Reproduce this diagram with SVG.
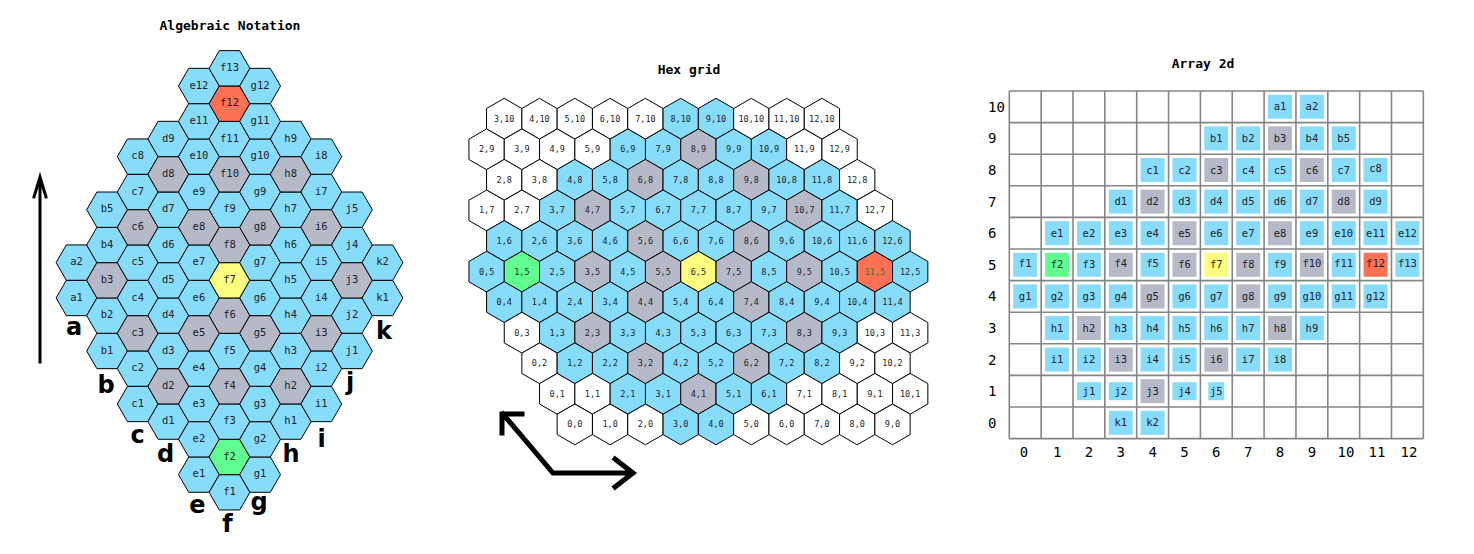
<svg xmlns="http://www.w3.org/2000/svg" xmlns:xlink="http://www.w3.org/1999/xlink" width="1474" height="554" viewBox="0 0 1474 554">
<style>
.b{fill:#87dcfa}.g{fill:#b6bac8}.w{fill:#ffffff}.y{fill:#fdfd80}.gr{fill:#62fd90}.o{fill:#fd7155}
text{font-family:"DejaVu Sans Mono","Liberation Mono",monospace;fill:#1c1c28;text-anchor:middle}
.title{font-size:13px;font-weight:bold;fill:#000}
#left text{font-size:10.5px}
#mid text{font-size:8.5px}
#arr text{font-size:10.5px}
.col{font-family:"DejaVu Sans","Liberation Sans",sans-serif;font-size:24px;font-weight:bold;fill:#000}
#arr text.ax{font-size:14px;fill:#000}
.hex{stroke:#000;stroke-width:1}
.grid{stroke:#858585;stroke-width:1.6;fill:none}
.arrow{stroke:#000;fill:none;stroke-linecap:square}
</style>
<defs>
<polygon id="fh" class="hex" points="20.4,0 10.2,17.67 -10.2,17.67 -20.4,0 -10.2,-17.67 10.2,-17.67"/>
<polygon id="ph" class="hex" points="0,-20.38 17.65,-10.19 17.65,10.19 0,20.38 -17.65,10.19 -17.65,-10.19"/>
</defs>
<rect width="1474" height="554" fill="#fff"/>
<text class="title" x="230" y="30">Algebraic Notation</text>
<text class="title" x="689" y="74">Hex grid</text>
<text class="title" x="1203" y="68">Array 2d</text>

<g id="left">
<g id="L-a1" transform="translate(76.5,298.0)"><use href="#fh" class="b"/><text y="2.5">a1</text></g>
<g id="L-a2" transform="translate(76.5,262.6)"><use href="#fh" class="b"/><text y="2.5">a2</text></g>
<g id="L-b1" transform="translate(107.1,351.0)"><use href="#fh" class="b"/><text y="2.5">b1</text></g>
<g id="L-b2" transform="translate(107.1,315.6)"><use href="#fh" class="b"/><text y="2.5">b2</text></g>
<g id="L-b3" transform="translate(107.1,280.3)"><use href="#fh" class="g"/><text y="2.5">b3</text></g>
<g id="L-b4" transform="translate(107.1,245.0)"><use href="#fh" class="b"/><text y="2.5">b4</text></g>
<g id="L-b5" transform="translate(107.1,209.7)"><use href="#fh" class="b"/><text y="2.5">b5</text></g>
<g id="L-c1" transform="translate(137.7,404.0)"><use href="#fh" class="b"/><text y="2.5">c1</text></g>
<g id="L-c2" transform="translate(137.7,368.6)"><use href="#fh" class="b"/><text y="2.5">c2</text></g>
<g id="L-c3" transform="translate(137.7,333.3)"><use href="#fh" class="g"/><text y="2.5">c3</text></g>
<g id="L-c4" transform="translate(137.7,298.0)"><use href="#fh" class="b"/><text y="2.5">c4</text></g>
<g id="L-c5" transform="translate(137.7,262.6)"><use href="#fh" class="b"/><text y="2.5">c5</text></g>
<g id="L-c6" transform="translate(137.7,227.3)"><use href="#fh" class="g"/><text y="2.5">c6</text></g>
<g id="L-c7" transform="translate(137.7,192.0)"><use href="#fh" class="b"/><text y="2.5">c7</text></g>
<g id="L-c8" transform="translate(137.7,156.6)"><use href="#fh" class="b"/><text y="2.5">c8</text></g>
<g id="L-d1" transform="translate(168.3,421.6)"><use href="#fh" class="b"/><text y="2.5">d1</text></g>
<g id="L-d2" transform="translate(168.3,386.3)"><use href="#fh" class="g"/><text y="2.5">d2</text></g>
<g id="L-d3" transform="translate(168.3,351.0)"><use href="#fh" class="b"/><text y="2.5">d3</text></g>
<g id="L-d4" transform="translate(168.3,315.6)"><use href="#fh" class="b"/><text y="2.5">d4</text></g>
<g id="L-d5" transform="translate(168.3,280.3)"><use href="#fh" class="b"/><text y="2.5">d5</text></g>
<g id="L-d6" transform="translate(168.3,245.0)"><use href="#fh" class="b"/><text y="2.5">d6</text></g>
<g id="L-d7" transform="translate(168.3,209.7)"><use href="#fh" class="b"/><text y="2.5">d7</text></g>
<g id="L-d8" transform="translate(168.3,174.3)"><use href="#fh" class="g"/><text y="2.5">d8</text></g>
<g id="L-d9" transform="translate(168.3,139.0)"><use href="#fh" class="b"/><text y="2.5">d9</text></g>
<g id="L-e1" transform="translate(198.9,474.6)"><use href="#fh" class="b"/><text y="2.5">e1</text></g>
<g id="L-e2" transform="translate(198.9,439.3)"><use href="#fh" class="b"/><text y="2.5">e2</text></g>
<g id="L-e3" transform="translate(198.9,404.0)"><use href="#fh" class="b"/><text y="2.5">e3</text></g>
<g id="L-e4" transform="translate(198.9,368.6)"><use href="#fh" class="b"/><text y="2.5">e4</text></g>
<g id="L-e5" transform="translate(198.9,333.3)"><use href="#fh" class="g"/><text y="2.5">e5</text></g>
<g id="L-e6" transform="translate(198.9,298.0)"><use href="#fh" class="b"/><text y="2.5">e6</text></g>
<g id="L-e7" transform="translate(198.9,262.6)"><use href="#fh" class="b"/><text y="2.5">e7</text></g>
<g id="L-e8" transform="translate(198.9,227.3)"><use href="#fh" class="g"/><text y="2.5">e8</text></g>
<g id="L-e9" transform="translate(198.9,192.0)"><use href="#fh" class="b"/><text y="2.5">e9</text></g>
<g id="L-e10" transform="translate(198.9,156.6)"><use href="#fh" class="b"/><text y="2.5">e10</text></g>
<g id="L-e11" transform="translate(198.9,121.3)"><use href="#fh" class="b"/><text y="2.5">e11</text></g>
<g id="L-e12" transform="translate(198.9,86.0)"><use href="#fh" class="b"/><text y="2.5">e12</text></g>
<g id="L-f1" transform="translate(229.5,492.3)"><use href="#fh" class="b"/><text y="2.5">f1</text></g>
<g id="L-f2" transform="translate(229.5,457.0)"><use href="#fh" class="gr"/><text y="2.5">f2</text></g>
<g id="L-f3" transform="translate(229.5,421.6)"><use href="#fh" class="b"/><text y="2.5">f3</text></g>
<g id="L-f4" transform="translate(229.5,386.3)"><use href="#fh" class="g"/><text y="2.5">f4</text></g>
<g id="L-f5" transform="translate(229.5,351.0)"><use href="#fh" class="b"/><text y="2.5">f5</text></g>
<g id="L-f6" transform="translate(229.5,315.6)"><use href="#fh" class="g"/><text y="2.5">f6</text></g>
<g id="L-f7" transform="translate(229.5,280.3)"><use href="#fh" class="y"/><text y="2.5">f7</text></g>
<g id="L-f8" transform="translate(229.5,245.0)"><use href="#fh" class="g"/><text y="2.5">f8</text></g>
<g id="L-f9" transform="translate(229.5,209.7)"><use href="#fh" class="b"/><text y="2.5">f9</text></g>
<g id="L-f10" transform="translate(229.5,174.3)"><use href="#fh" class="g"/><text y="2.5">f10</text></g>
<g id="L-f11" transform="translate(229.5,139.0)"><use href="#fh" class="b"/><text y="2.5">f11</text></g>
<g id="L-f12" transform="translate(229.5,103.7)"><use href="#fh" class="o"/><text y="2.5">f12</text></g>
<g id="L-f13" transform="translate(229.5,68.3)"><use href="#fh" class="b"/><text y="2.5">f13</text></g>
<g id="L-g1" transform="translate(260.1,474.6)"><use href="#fh" class="b"/><text y="2.5">g1</text></g>
<g id="L-g2" transform="translate(260.1,439.3)"><use href="#fh" class="b"/><text y="2.5">g2</text></g>
<g id="L-g3" transform="translate(260.1,404.0)"><use href="#fh" class="b"/><text y="2.5">g3</text></g>
<g id="L-g4" transform="translate(260.1,368.6)"><use href="#fh" class="b"/><text y="2.5">g4</text></g>
<g id="L-g5" transform="translate(260.1,333.3)"><use href="#fh" class="g"/><text y="2.5">g5</text></g>
<g id="L-g6" transform="translate(260.1,298.0)"><use href="#fh" class="b"/><text y="2.5">g6</text></g>
<g id="L-g7" transform="translate(260.1,262.6)"><use href="#fh" class="b"/><text y="2.5">g7</text></g>
<g id="L-g8" transform="translate(260.1,227.3)"><use href="#fh" class="g"/><text y="2.5">g8</text></g>
<g id="L-g9" transform="translate(260.1,192.0)"><use href="#fh" class="b"/><text y="2.5">g9</text></g>
<g id="L-g10" transform="translate(260.1,156.6)"><use href="#fh" class="b"/><text y="2.5">g10</text></g>
<g id="L-g11" transform="translate(260.1,121.3)"><use href="#fh" class="b"/><text y="2.5">g11</text></g>
<g id="L-g12" transform="translate(260.1,86.0)"><use href="#fh" class="b"/><text y="2.5">g12</text></g>
<g id="L-h1" transform="translate(290.7,421.6)"><use href="#fh" class="b"/><text y="2.5">h1</text></g>
<g id="L-h2" transform="translate(290.7,386.3)"><use href="#fh" class="g"/><text y="2.5">h2</text></g>
<g id="L-h3" transform="translate(290.7,351.0)"><use href="#fh" class="b"/><text y="2.5">h3</text></g>
<g id="L-h4" transform="translate(290.7,315.6)"><use href="#fh" class="b"/><text y="2.5">h4</text></g>
<g id="L-h5" transform="translate(290.7,280.3)"><use href="#fh" class="b"/><text y="2.5">h5</text></g>
<g id="L-h6" transform="translate(290.7,245.0)"><use href="#fh" class="b"/><text y="2.5">h6</text></g>
<g id="L-h7" transform="translate(290.7,209.7)"><use href="#fh" class="b"/><text y="2.5">h7</text></g>
<g id="L-h8" transform="translate(290.7,174.3)"><use href="#fh" class="g"/><text y="2.5">h8</text></g>
<g id="L-h9" transform="translate(290.7,139.0)"><use href="#fh" class="b"/><text y="2.5">h9</text></g>
<g id="L-i1" transform="translate(321.3,404.0)"><use href="#fh" class="b"/><text y="2.5">i1</text></g>
<g id="L-i2" transform="translate(321.3,368.6)"><use href="#fh" class="b"/><text y="2.5">i2</text></g>
<g id="L-i3" transform="translate(321.3,333.3)"><use href="#fh" class="g"/><text y="2.5">i3</text></g>
<g id="L-i4" transform="translate(321.3,298.0)"><use href="#fh" class="b"/><text y="2.5">i4</text></g>
<g id="L-i5" transform="translate(321.3,262.6)"><use href="#fh" class="b"/><text y="2.5">i5</text></g>
<g id="L-i6" transform="translate(321.3,227.3)"><use href="#fh" class="g"/><text y="2.5">i6</text></g>
<g id="L-i7" transform="translate(321.3,192.0)"><use href="#fh" class="b"/><text y="2.5">i7</text></g>
<g id="L-i8" transform="translate(321.3,156.6)"><use href="#fh" class="b"/><text y="2.5">i8</text></g>
<g id="L-j1" transform="translate(351.9,351.0)"><use href="#fh" class="b"/><text y="2.5">j1</text></g>
<g id="L-j2" transform="translate(351.9,315.6)"><use href="#fh" class="b"/><text y="2.5">j2</text></g>
<g id="L-j3" transform="translate(351.9,280.3)"><use href="#fh" class="g"/><text y="2.5">j3</text></g>
<g id="L-j4" transform="translate(351.9,245.0)"><use href="#fh" class="b"/><text y="2.5">j4</text></g>
<g id="L-j5" transform="translate(351.9,209.7)"><use href="#fh" class="b"/><text y="2.5">j5</text></g>
<g id="L-k1" transform="translate(382.5,298.0)"><use href="#fh" class="b"/><text y="2.5">k1</text></g>
<g id="L-k2" transform="translate(382.5,262.6)"><use href="#fh" class="b"/><text y="2.5">k2</text></g>
</g>
<g id="left-cols">
<text class="col" x="74" y="335">a</text>
<text class="col" x="106" y="393">b</text>
<text class="col" x="137.5" y="443">c</text>
<text class="col" x="165.5" y="461.5">d</text>
<text class="col" x="197.5" y="512.5">e</text>
<text class="col" x="227.5" y="531.5">f</text>
<text class="col" x="259" y="510">g</text>
<text class="col" x="291" y="461.5">h</text>
<text class="col" x="321.5" y="446.5">i</text>
<text class="col" x="350" y="390">j</text>
<text class="col" x="384" y="339">k</text>
</g>

<g id="mid">
<g id="H-3-10" transform="translate(504.2,118.7)"><use href="#ph" class="w"/><text y="3">3,10</text></g>
<g id="H-4-10" transform="translate(539.5,118.7)"><use href="#ph" class="w"/><text y="3">4,10</text></g>
<g id="H-5-10" transform="translate(574.8,118.7)"><use href="#ph" class="w"/><text y="3">5,10</text></g>
<g id="H-6-10" transform="translate(610.1,118.7)"><use href="#ph" class="w"/><text y="3">6,10</text></g>
<g id="H-7-10" transform="translate(645.4,118.7)"><use href="#ph" class="w"/><text y="3">7,10</text></g>
<g id="H-8-10" transform="translate(680.7,118.7)"><use href="#ph" class="b"/><text y="3">8,10</text></g>
<g id="H-9-10" transform="translate(716.0,118.7)"><use href="#ph" class="b"/><text y="3">9,10</text></g>
<g id="H-10-10" transform="translate(751.3,118.7)"><use href="#ph" class="w"/><text y="3">10,10</text></g>
<g id="H-11-10" transform="translate(786.6,118.7)"><use href="#ph" class="w"/><text y="3">11,10</text></g>
<g id="H-12-10" transform="translate(821.9,118.7)"><use href="#ph" class="w"/><text y="3">12,10</text></g>

<g id="H-2-9" transform="translate(486.6,149.3)"><use href="#ph" class="w"/><text y="3">2,9</text></g>
<g id="H-3-9" transform="translate(521.9,149.3)"><use href="#ph" class="w"/><text y="3">3,9</text></g>
<g id="H-4-9" transform="translate(557.2,149.3)"><use href="#ph" class="w"/><text y="3">4,9</text></g>
<g id="H-5-9" transform="translate(592.5,149.3)"><use href="#ph" class="w"/><text y="3">5,9</text></g>
<g id="H-6-9" transform="translate(627.8,149.3)"><use href="#ph" class="b"/><text y="3">6,9</text></g>
<g id="H-7-9" transform="translate(663.1,149.3)"><use href="#ph" class="b"/><text y="3">7,9</text></g>
<g id="H-8-9" transform="translate(698.4,149.3)"><use href="#ph" class="g"/><text y="3">8,9</text></g>
<g id="H-9-9" transform="translate(733.7,149.3)"><use href="#ph" class="b"/><text y="3">9,9</text></g>
<g id="H-10-9" transform="translate(769.0,149.3)"><use href="#ph" class="b"/><text y="3">10,9</text></g>
<g id="H-11-9" transform="translate(804.3,149.3)"><use href="#ph" class="w"/><text y="3">11,9</text></g>
<g id="H-12-9" transform="translate(839.6,149.3)"><use href="#ph" class="w"/><text y="3">12,9</text></g>

<g id="H-2-8" transform="translate(504.2,179.8)"><use href="#ph" class="w"/><text y="3">2,8</text></g>
<g id="H-3-8" transform="translate(539.5,179.8)"><use href="#ph" class="w"/><text y="3">3,8</text></g>
<g id="H-4-8" transform="translate(574.8,179.8)"><use href="#ph" class="b"/><text y="3">4,8</text></g>
<g id="H-5-8" transform="translate(610.1,179.8)"><use href="#ph" class="b"/><text y="3">5,8</text></g>
<g id="H-6-8" transform="translate(645.4,179.8)"><use href="#ph" class="g"/><text y="3">6,8</text></g>
<g id="H-7-8" transform="translate(680.7,179.8)"><use href="#ph" class="b"/><text y="3">7,8</text></g>
<g id="H-8-8" transform="translate(716.0,179.8)"><use href="#ph" class="b"/><text y="3">8,8</text></g>
<g id="H-9-8" transform="translate(751.3,179.8)"><use href="#ph" class="g"/><text y="3">9,8</text></g>
<g id="H-10-8" transform="translate(786.6,179.8)"><use href="#ph" class="b"/><text y="3">10,8</text></g>
<g id="H-11-8" transform="translate(821.9,179.8)"><use href="#ph" class="b"/><text y="3">11,8</text></g>
<g id="H-12-8" transform="translate(857.2,179.8)"><use href="#ph" class="w"/><text y="3">12,8</text></g>

<g id="H-1-7" transform="translate(486.6,210.4)"><use href="#ph" class="w"/><text y="3">1,7</text></g>
<g id="H-2-7" transform="translate(521.9,210.4)"><use href="#ph" class="w"/><text y="3">2,7</text></g>
<g id="H-3-7" transform="translate(557.2,210.4)"><use href="#ph" class="b"/><text y="3">3,7</text></g>
<g id="H-4-7" transform="translate(592.5,210.4)"><use href="#ph" class="g"/><text y="3">4,7</text></g>
<g id="H-5-7" transform="translate(627.8,210.4)"><use href="#ph" class="b"/><text y="3">5,7</text></g>
<g id="H-6-7" transform="translate(663.1,210.4)"><use href="#ph" class="b"/><text y="3">6,7</text></g>
<g id="H-7-7" transform="translate(698.4,210.4)"><use href="#ph" class="b"/><text y="3">7,7</text></g>
<g id="H-8-7" transform="translate(733.7,210.4)"><use href="#ph" class="b"/><text y="3">8,7</text></g>
<g id="H-9-7" transform="translate(769.0,210.4)"><use href="#ph" class="b"/><text y="3">9,7</text></g>
<g id="H-10-7" transform="translate(804.3,210.4)"><use href="#ph" class="g"/><text y="3">10,7</text></g>
<g id="H-11-7" transform="translate(839.6,210.4)"><use href="#ph" class="b"/><text y="3">11,7</text></g>
<g id="H-12-7" transform="translate(874.9,210.4)"><use href="#ph" class="w"/><text y="3">12,7</text></g>

<g id="H-1-6" transform="translate(504.2,241.0)"><use href="#ph" class="b"/><text y="3">1,6</text></g>
<g id="H-2-6" transform="translate(539.5,241.0)"><use href="#ph" class="b"/><text y="3">2,6</text></g>
<g id="H-3-6" transform="translate(574.8,241.0)"><use href="#ph" class="b"/><text y="3">3,6</text></g>
<g id="H-4-6" transform="translate(610.1,241.0)"><use href="#ph" class="b"/><text y="3">4,6</text></g>
<g id="H-5-6" transform="translate(645.4,241.0)"><use href="#ph" class="g"/><text y="3">5,6</text></g>
<g id="H-6-6" transform="translate(680.7,241.0)"><use href="#ph" class="b"/><text y="3">6,6</text></g>
<g id="H-7-6" transform="translate(716.0,241.0)"><use href="#ph" class="b"/><text y="3">7,6</text></g>
<g id="H-8-6" transform="translate(751.3,241.0)"><use href="#ph" class="g"/><text y="3">8,6</text></g>
<g id="H-9-6" transform="translate(786.6,241.0)"><use href="#ph" class="b"/><text y="3">9,6</text></g>
<g id="H-10-6" transform="translate(821.9,241.0)"><use href="#ph" class="b"/><text y="3">10,6</text></g>
<g id="H-11-6" transform="translate(857.2,241.0)"><use href="#ph" class="b"/><text y="3">11,6</text></g>
<g id="H-12-6" transform="translate(892.5,241.0)"><use href="#ph" class="b"/><text y="3">12,6</text></g>

<g id="H-0-5" transform="translate(486.6,271.6)"><use href="#ph" class="b"/><text y="3">0,5</text></g>
<g id="H-1-5" transform="translate(521.9,271.6)"><use href="#ph" class="gr"/><text y="3">1,5</text></g>
<g id="H-2-5" transform="translate(557.2,271.6)"><use href="#ph" class="b"/><text y="3">2,5</text></g>
<g id="H-3-5" transform="translate(592.5,271.6)"><use href="#ph" class="g"/><text y="3">3,5</text></g>
<g id="H-4-5" transform="translate(627.8,271.6)"><use href="#ph" class="b"/><text y="3">4,5</text></g>
<g id="H-5-5" transform="translate(663.1,271.6)"><use href="#ph" class="g"/><text y="3">5,5</text></g>
<g id="H-6-5" transform="translate(698.4,271.6)"><use href="#ph" class="y"/><text y="3">6,5</text></g>
<g id="H-7-5" transform="translate(733.7,271.6)"><use href="#ph" class="g"/><text y="3">7,5</text></g>
<g id="H-8-5" transform="translate(769.0,271.6)"><use href="#ph" class="b"/><text y="3">8,5</text></g>
<g id="H-9-5" transform="translate(804.3,271.6)"><use href="#ph" class="g"/><text y="3">9,5</text></g>
<g id="H-10-5" transform="translate(839.6,271.6)"><use href="#ph" class="b"/><text y="3">10,5</text></g>
<g id="H-11-5" transform="translate(874.9,271.6)"><use href="#ph" class="o"/><text y="3" style="fill:#1e7a3c">11,5</text></g>
<g id="H-12-5" transform="translate(910.2,271.6)"><use href="#ph" class="b"/><text y="3">12,5</text></g>

<g id="H-0-4" transform="translate(504.2,302.1)"><use href="#ph" class="b"/><text y="3">0,4</text></g>
<g id="H-1-4" transform="translate(539.5,302.1)"><use href="#ph" class="b"/><text y="3">1,4</text></g>
<g id="H-2-4" transform="translate(574.8,302.1)"><use href="#ph" class="b"/><text y="3">2,4</text></g>
<g id="H-3-4" transform="translate(610.1,302.1)"><use href="#ph" class="b"/><text y="3">3,4</text></g>
<g id="H-4-4" transform="translate(645.4,302.1)"><use href="#ph" class="g"/><text y="3">4,4</text></g>
<g id="H-5-4" transform="translate(680.7,302.1)"><use href="#ph" class="b"/><text y="3">5,4</text></g>
<g id="H-6-4" transform="translate(716.0,302.1)"><use href="#ph" class="b"/><text y="3">6,4</text></g>
<g id="H-7-4" transform="translate(751.3,302.1)"><use href="#ph" class="g"/><text y="3">7,4</text></g>
<g id="H-8-4" transform="translate(786.6,302.1)"><use href="#ph" class="b"/><text y="3">8,4</text></g>
<g id="H-9-4" transform="translate(821.9,302.1)"><use href="#ph" class="b"/><text y="3">9,4</text></g>
<g id="H-10-4" transform="translate(857.2,302.1)"><use href="#ph" class="b"/><text y="3">10,4</text></g>
<g id="H-11-4" transform="translate(892.5,302.1)"><use href="#ph" class="b"/><text y="3">11,4</text></g>

<g id="H-0-3" transform="translate(521.9,332.7)"><use href="#ph" class="w"/><text y="3">0,3</text></g>
<g id="H-1-3" transform="translate(557.2,332.7)"><use href="#ph" class="b"/><text y="3">1,3</text></g>
<g id="H-2-3" transform="translate(592.5,332.7)"><use href="#ph" class="g"/><text y="3">2,3</text></g>
<g id="H-3-3" transform="translate(627.8,332.7)"><use href="#ph" class="b"/><text y="3">3,3</text></g>
<g id="H-4-3" transform="translate(663.1,332.7)"><use href="#ph" class="b"/><text y="3">4,3</text></g>
<g id="H-5-3" transform="translate(698.4,332.7)"><use href="#ph" class="b"/><text y="3">5,3</text></g>
<g id="H-6-3" transform="translate(733.7,332.7)"><use href="#ph" class="b"/><text y="3">6,3</text></g>
<g id="H-7-3" transform="translate(769.0,332.7)"><use href="#ph" class="b"/><text y="3">7,3</text></g>
<g id="H-8-3" transform="translate(804.3,332.7)"><use href="#ph" class="g"/><text y="3">8,3</text></g>
<g id="H-9-3" transform="translate(839.6,332.7)"><use href="#ph" class="b"/><text y="3">9,3</text></g>
<g id="H-10-3" transform="translate(874.9,332.7)"><use href="#ph" class="w"/><text y="3">10,3</text></g>
<g id="H-11-3" transform="translate(910.2,332.7)"><use href="#ph" class="w"/><text y="3">11,3</text></g>

<g id="H-0-2" transform="translate(539.5,363.3)"><use href="#ph" class="w"/><text y="3">0,2</text></g>
<g id="H-1-2" transform="translate(574.8,363.3)"><use href="#ph" class="b"/><text y="3">1,2</text></g>
<g id="H-2-2" transform="translate(610.1,363.3)"><use href="#ph" class="b"/><text y="3">2,2</text></g>
<g id="H-3-2" transform="translate(645.4,363.3)"><use href="#ph" class="g"/><text y="3">3,2</text></g>
<g id="H-4-2" transform="translate(680.7,363.3)"><use href="#ph" class="b"/><text y="3">4,2</text></g>
<g id="H-5-2" transform="translate(716.0,363.3)"><use href="#ph" class="b"/><text y="3">5,2</text></g>
<g id="H-6-2" transform="translate(751.3,363.3)"><use href="#ph" class="g"/><text y="3">6,2</text></g>
<g id="H-7-2" transform="translate(786.6,363.3)"><use href="#ph" class="b"/><text y="3">7,2</text></g>
<g id="H-8-2" transform="translate(821.9,363.3)"><use href="#ph" class="b"/><text y="3">8,2</text></g>
<g id="H-9-2" transform="translate(857.2,363.3)"><use href="#ph" class="w"/><text y="3">9,2</text></g>
<g id="H-10-2" transform="translate(892.5,363.3)"><use href="#ph" class="w"/><text y="3">10,2</text></g>

<g id="H-0-1" transform="translate(557.2,393.8)"><use href="#ph" class="w"/><text y="3">0,1</text></g>
<g id="H-1-1" transform="translate(592.5,393.8)"><use href="#ph" class="w"/><text y="3">1,1</text></g>
<g id="H-2-1" transform="translate(627.8,393.8)"><use href="#ph" class="b"/><text y="3">2,1</text></g>
<g id="H-3-1" transform="translate(663.1,393.8)"><use href="#ph" class="b"/><text y="3">3,1</text></g>
<g id="H-4-1" transform="translate(698.4,393.8)"><use href="#ph" class="g"/><text y="3">4,1</text></g>
<g id="H-5-1" transform="translate(733.7,393.8)"><use href="#ph" class="b"/><text y="3">5,1</text></g>
<g id="H-6-1" transform="translate(769.0,393.8)"><use href="#ph" class="b"/><text y="3">6,1</text></g>
<g id="H-7-1" transform="translate(804.3,393.8)"><use href="#ph" class="w"/><text y="3">7,1</text></g>
<g id="H-8-1" transform="translate(839.6,393.8)"><use href="#ph" class="w"/><text y="3">8,1</text></g>
<g id="H-9-1" transform="translate(874.9,393.8)"><use href="#ph" class="w"/><text y="3">9,1</text></g>
<g id="H-10-1" transform="translate(910.2,393.8)"><use href="#ph" class="w"/><text y="3">10,1</text></g>

<g id="H-0-0" transform="translate(574.8,424.4)"><use href="#ph" class="w"/><text y="3">0,0</text></g>
<g id="H-1-0" transform="translate(610.1,424.4)"><use href="#ph" class="w"/><text y="3">1,0</text></g>
<g id="H-2-0" transform="translate(645.4,424.4)"><use href="#ph" class="w"/><text y="3">2,0</text></g>
<g id="H-3-0" transform="translate(680.7,424.4)"><use href="#ph" class="b"/><text y="3">3,0</text></g>
<g id="H-4-0" transform="translate(716.0,424.4)"><use href="#ph" class="b"/><text y="3">4,0</text></g>
<g id="H-5-0" transform="translate(751.3,424.4)"><use href="#ph" class="w"/><text y="3">5,0</text></g>
<g id="H-6-0" transform="translate(786.6,424.4)"><use href="#ph" class="w"/><text y="3">6,0</text></g>
<g id="H-7-0" transform="translate(821.9,424.4)"><use href="#ph" class="w"/><text y="3">7,0</text></g>
<g id="H-8-0" transform="translate(857.2,424.4)"><use href="#ph" class="w"/><text y="3">8,0</text></g>
<g id="H-9-0" transform="translate(892.5,424.4)"><use href="#ph" class="w"/><text y="3">9,0</text></g>
</g>

<g id="connectors">
<path class="arrow" stroke-width="3" d="M40,362 V178 M34,197 L40,177 L46,197"/>
<path class="arrow" stroke-width="5" d="M503,414 L553,473 H632 M522,414 H502 V433 M615,459 L633,473 L615,487"/>
</g>

<g id="arr">
<path class="grid" d="M1009.3,91V438.6M1041.15,91V438.6M1073,91V438.6M1104.85,91V438.6M1136.7,91V438.6M1168.55,91V438.6M1200.4,91V438.6M1232.25,91V438.6M1264.1,91V438.6M1295.95,91V438.6M1327.8,91V438.6M1359.65,91V438.6M1391.5,91V438.6M1423.35,91V438.6M1009.3,91H1423.35M1009.3,122.6H1423.35M1009.3,154.2H1423.35M1009.3,185.8H1423.35M1009.3,217.4H1423.35M1009.3,249H1423.35M1009.3,280.6H1423.35M1009.3,312.2H1423.35M1009.3,343.8H1423.35M1009.3,375.4H1423.35M1009.3,407H1423.35M1009.3,438.6H1423.35"/>
<g id="arr-rows">
<text class="ax" x="988" y="111.8" style="text-anchor:start">10</text>
<text class="ax" x="988" y="143.4" style="text-anchor:start">9</text>
<text class="ax" x="988" y="175.0" style="text-anchor:start">8</text>
<text class="ax" x="988" y="206.6" style="text-anchor:start">7</text>
<text class="ax" x="988" y="238.2" style="text-anchor:start">6</text>
<text class="ax" x="988" y="269.8" style="text-anchor:start">5</text>
<text class="ax" x="988" y="301.4" style="text-anchor:start">4</text>
<text class="ax" x="988" y="333.0" style="text-anchor:start">3</text>
<text class="ax" x="988" y="364.6" style="text-anchor:start">2</text>
<text class="ax" x="988" y="396.2" style="text-anchor:start">1</text>
<text class="ax" x="988" y="427.8" style="text-anchor:start">0</text>
</g>
<g id="arr-cols">
<text class="ax" x="1024" y="457">0</text>
<text class="ax" x="1057.1" y="457">1</text>
<text class="ax" x="1088.9" y="457">2</text>
<text class="ax" x="1120.8" y="457">3</text>
<text class="ax" x="1152.6" y="457">4</text>
<text class="ax" x="1184.5" y="457">5</text>
<text class="ax" x="1216.3" y="457">6</text>
<text class="ax" x="1248.2" y="457">7</text>
<text class="ax" x="1280" y="457">8</text>
<text class="ax" x="1311.9" y="457">9</text>
<text class="ax" x="1346" y="457">10</text>
<text class="ax" x="1377" y="457">11</text>
<text class="ax" x="1409" y="457">12</text>
</g>
<g id="A-a1" transform="translate(1280.0,106.8)"><rect class="b" x="-12" y="-12" width="24" height="24"/><text y="3.6">a1</text></g>
<g id="A-a2" transform="translate(1311.9,106.8)"><rect class="b" x="-12" y="-12" width="24" height="24"/><text y="3.6">a2</text></g>
<g id="A-b1" transform="translate(1216.3,138.4)"><rect class="b" x="-12" y="-12" width="24" height="24"/><text y="3.6">b1</text></g>
<g id="A-b2" transform="translate(1248.2,138.4)"><rect class="b" x="-12" y="-12" width="24" height="24"/><text y="3.6">b2</text></g>
<g id="A-b3" transform="translate(1280.0,138.4)"><rect class="g" x="-12" y="-12" width="24" height="24"/><text y="3.6">b3</text></g>
<g id="A-b4" transform="translate(1311.9,138.4)"><rect class="b" x="-12" y="-12" width="24" height="24"/><text y="3.6">b4</text></g>
<g id="A-b5" transform="translate(1343.7,138.4)"><rect class="b" x="-12" y="-12" width="24" height="24"/><text y="3.6">b5</text></g>
<g id="A-c1" transform="translate(1152.6,170.0)"><rect class="b" x="-12" y="-12" width="24" height="24"/><text y="3.6">c1</text></g>
<g id="A-c2" transform="translate(1184.5,170.0)"><rect class="b" x="-12" y="-12" width="24" height="24"/><text y="3.6">c2</text></g>
<g id="A-c3" transform="translate(1216.3,170.0)"><rect class="g" x="-12" y="-12" width="24" height="24"/><text y="3.6">c3</text></g>
<g id="A-c4" transform="translate(1248.2,170.0)"><rect class="b" x="-12" y="-12" width="24" height="24"/><text y="3.6">c4</text></g>
<g id="A-c5" transform="translate(1280.0,170.0)"><rect class="b" x="-12" y="-12" width="24" height="24"/><text y="3.6">c5</text></g>
<g id="A-c6" transform="translate(1311.9,170.0)"><rect class="g" x="-12" y="-12" width="24" height="24"/><text y="3.6">c6</text></g>
<g id="A-c7" transform="translate(1343.7,170.0)"><rect class="b" x="-12" y="-12" width="24" height="24"/><text y="3.6">c7</text></g>
<g id="A-c8" transform="translate(1375.6,170.0)"><rect class="b" x="-12" y="-12" width="24" height="24"/><text y="2">c8</text></g>
<g id="A-d1" transform="translate(1120.8,201.6)"><rect class="b" x="-12" y="-12" width="24" height="24"/><text y="3.6">d1</text></g>
<g id="A-d2" transform="translate(1152.6,201.6)"><rect class="g" x="-12" y="-12" width="24" height="24"/><text y="3.6">d2</text></g>
<g id="A-d3" transform="translate(1184.5,201.6)"><rect class="b" x="-12" y="-12" width="24" height="24"/><text y="3.6">d3</text></g>
<g id="A-d4" transform="translate(1216.3,201.6)"><rect class="b" x="-12" y="-12" width="24" height="24"/><text y="3.6">d4</text></g>
<g id="A-d5" transform="translate(1248.2,201.6)"><rect class="b" x="-12" y="-12" width="24" height="24"/><text y="3.6">d5</text></g>
<g id="A-d6" transform="translate(1280.0,201.6)"><rect class="b" x="-12" y="-12" width="24" height="24"/><text y="3.6">d6</text></g>
<g id="A-d7" transform="translate(1311.9,201.6)"><rect class="b" x="-12" y="-12" width="24" height="24"/><text y="3.6">d7</text></g>
<g id="A-d8" transform="translate(1343.7,201.6)"><rect class="g" x="-12" y="-12" width="24" height="24"/><text y="3.6">d8</text></g>
<g id="A-d9" transform="translate(1375.6,201.6)"><rect class="b" x="-12" y="-12" width="24" height="24"/><text y="3.6">d9</text></g>
<g id="A-e1" transform="translate(1057.1,233.2)"><rect class="b" x="-12" y="-12" width="24" height="24"/><text y="3.6">e1</text></g>
<g id="A-e2" transform="translate(1088.9,233.2)"><rect class="b" x="-12" y="-12" width="24" height="24"/><text y="3.6">e2</text></g>
<g id="A-e3" transform="translate(1120.8,233.2)"><rect class="b" x="-12" y="-12" width="24" height="24"/><text y="3.6">e3</text></g>
<g id="A-e4" transform="translate(1152.6,233.2)"><rect class="b" x="-12" y="-12" width="24" height="24"/><text y="3.6">e4</text></g>
<g id="A-e5" transform="translate(1184.5,233.2)"><rect class="g" x="-12" y="-12" width="24" height="24"/><text y="3.6">e5</text></g>
<g id="A-e6" transform="translate(1216.3,233.2)"><rect class="b" x="-12" y="-12" width="24" height="24"/><text y="3.6">e6</text></g>
<g id="A-e7" transform="translate(1248.2,233.2)"><rect class="b" x="-12" y="-12" width="24" height="24"/><text y="3.6">e7</text></g>
<g id="A-e8" transform="translate(1280.0,233.2)"><rect class="g" x="-12" y="-12" width="24" height="24"/><text y="3.6">e8</text></g>
<g id="A-e9" transform="translate(1311.9,233.2)"><rect class="b" x="-12" y="-12" width="24" height="24"/><text y="3.6">e9</text></g>
<g id="A-e10" transform="translate(1343.7,233.2)"><rect class="b" x="-12" y="-12" width="24" height="24"/><text y="3.6">e10</text></g>
<g id="A-e11" transform="translate(1375.6,233.2)"><rect class="b" x="-12" y="-12" width="24" height="24"/><text y="3.6">e11</text></g>
<g id="A-e12" transform="translate(1407.4,233.2)"><rect class="b" x="-12" y="-12" width="24" height="24"/><text y="3.6">e12</text></g>
<g id="A-f1" transform="translate(1025.2,264.8)"><rect class="b" x="-12" y="-12" width="24" height="24"/><text y="2">f1</text></g>
<g id="A-f2" transform="translate(1057.1,264.8)"><rect class="gr" x="-12" y="-12" width="24" height="24"/><text y="3">f2</text></g>
<g id="A-f3" transform="translate(1088.9,264.8)"><rect class="b" x="-12" y="-12" width="24" height="24"/><text y="3.6">f3</text></g>
<g id="A-f4" transform="translate(1120.8,264.8)"><rect class="g" x="-12" y="-12" width="24" height="24"/><text y="2">f4</text></g>
<g id="A-f5" transform="translate(1152.6,264.8)"><rect class="b" x="-12" y="-12" width="24" height="24"/><text y="2">f5</text></g>
<g id="A-f6" transform="translate(1184.5,264.8)"><rect class="g" x="-12" y="-12" width="24" height="24"/><text y="3.6">f6</text></g>
<g id="A-f7" transform="translate(1216.3,264.8)"><rect class="y" x="-12" y="-12" width="24" height="24"/><text y="3.6">f7</text></g>
<g id="A-f8" transform="translate(1248.2,264.8)"><rect class="g" x="-12" y="-12" width="24" height="24"/><text y="3.6">f8</text></g>
<g id="A-f9" transform="translate(1280.0,264.8)"><rect class="b" x="-12" y="-12" width="24" height="24"/><text y="3.6">f9</text></g>
<g id="A-f10" transform="translate(1311.9,264.8)"><rect class="g" x="-12" y="-12" width="24" height="24"/><text y="2.5">f10</text></g>
<g id="A-f11" transform="translate(1343.7,264.8)"><rect class="b" x="-12" y="-12" width="24" height="24"/><text y="2.5">f11</text></g>
<g id="A-f12" transform="translate(1375.6,264.8)"><rect class="o" x="-12" y="-12" width="24" height="24"/><text y="2.5">f12</text></g>
<g id="A-f13" transform="translate(1407.4,264.8)"><rect class="b" x="-12" y="-12" width="24" height="24"/><text y="2.5">f13</text></g>
<g id="A-g1" transform="translate(1025.2,296.4)"><rect class="b" x="-12" y="-12" width="24" height="24"/><text y="3.6">g1</text></g>
<g id="A-g2" transform="translate(1057.1,296.4)"><rect class="b" x="-12" y="-12" width="24" height="24"/><text y="3.6">g2</text></g>
<g id="A-g3" transform="translate(1088.9,296.4)"><rect class="b" x="-12" y="-12" width="24" height="24"/><text y="3.6">g3</text></g>
<g id="A-g4" transform="translate(1120.8,296.4)"><rect class="b" x="-12" y="-12" width="24" height="24"/><text y="3.6">g4</text></g>
<g id="A-g5" transform="translate(1152.6,296.4)"><rect class="g" x="-12" y="-12" width="24" height="24"/><text y="3.6">g5</text></g>
<g id="A-g6" transform="translate(1184.5,296.4)"><rect class="b" x="-12" y="-12" width="24" height="24"/><text y="3.6">g6</text></g>
<g id="A-g7" transform="translate(1216.3,296.4)"><rect class="b" x="-12" y="-12" width="24" height="24"/><text y="3.6">g7</text></g>
<g id="A-g8" transform="translate(1248.2,296.4)"><rect class="g" x="-12" y="-12" width="24" height="24"/><text y="3.6">g8</text></g>
<g id="A-g9" transform="translate(1280.0,296.4)"><rect class="b" x="-12" y="-12" width="24" height="24"/><text y="3.6">g9</text></g>
<g id="A-g10" transform="translate(1311.9,296.4)"><rect class="b" x="-12" y="-12" width="24" height="24"/><text y="3.6">g10</text></g>
<g id="A-g11" transform="translate(1343.7,296.4)"><rect class="b" x="-12" y="-12" width="24" height="24"/><text y="3.6">g11</text></g>
<g id="A-g12" transform="translate(1375.6,296.4)"><rect class="b" x="-12" y="-12" width="24" height="24"/><text y="3.6">g12</text></g>
<g id="A-h1" transform="translate(1057.1,328.0)"><rect class="b" x="-12" y="-12" width="24" height="24"/><text y="3.6">h1</text></g>
<g id="A-h2" transform="translate(1088.9,328.0)"><rect class="g" x="-12" y="-12" width="24" height="24"/><text y="3.6">h2</text></g>
<g id="A-h3" transform="translate(1120.8,328.0)"><rect class="b" x="-12" y="-12" width="24" height="24"/><text y="3.6">h3</text></g>
<g id="A-h4" transform="translate(1152.6,328.0)"><rect class="b" x="-12" y="-12" width="24" height="24"/><text y="3.6">h4</text></g>
<g id="A-h5" transform="translate(1184.5,328.0)"><rect class="b" x="-12" y="-12" width="24" height="24"/><text y="3.6">h5</text></g>
<g id="A-h6" transform="translate(1216.3,328.0)"><rect class="b" x="-12" y="-12" width="24" height="24"/><text y="3.6">h6</text></g>
<g id="A-h7" transform="translate(1248.2,328.0)"><rect class="b" x="-12" y="-12" width="24" height="24"/><text y="3.6">h7</text></g>
<g id="A-h8" transform="translate(1280.0,328.0)"><rect class="g" x="-12" y="-12" width="24" height="24"/><text y="3.6">h8</text></g>
<g id="A-h9" transform="translate(1311.9,328.0)"><rect class="b" x="-12" y="-12" width="24" height="24"/><text y="3.6">h9</text></g>
<g id="A-i1" transform="translate(1057.1,359.6)"><rect class="b" x="-12" y="-12" width="24" height="24"/><text y="3.6">i1</text></g>
<g id="A-i2" transform="translate(1088.9,359.6)"><rect class="b" x="-12" y="-12" width="24" height="24"/><text y="3.6">i2</text></g>
<g id="A-i3" transform="translate(1120.8,359.6)"><rect class="g" x="-12" y="-12" width="24" height="24"/><text y="3.6">i3</text></g>
<g id="A-i4" transform="translate(1152.6,359.6)"><rect class="b" x="-12" y="-12" width="24" height="24"/><text y="3.6">i4</text></g>
<g id="A-i5" transform="translate(1184.5,359.6)"><rect class="b" x="-12" y="-12" width="24" height="24"/><text y="3.6">i5</text></g>
<g id="A-i6" transform="translate(1216.3,359.6)"><rect class="g" x="-12" y="-12" width="24" height="24"/><text y="3.6">i6</text></g>
<g id="A-i7" transform="translate(1248.2,359.6)"><rect class="b" x="-12" y="-12" width="24" height="24"/><text y="3.6">i7</text></g>
<g id="A-i8" transform="translate(1280.0,359.6)"><rect class="b" x="-12" y="-12" width="24" height="24"/><text y="3.6">i8</text></g>
<g id="A-j1" transform="translate(1088.9,391.2)"><rect class="b" x="-12" y="-9" width="24" height="18"/><text y="3.6">j1</text></g>
<g id="A-j2" transform="translate(1120.8,391.2)"><rect class="b" x="-12" y="-9" width="24" height="18"/><text y="3.6">j2</text></g>
<g id="A-j3" transform="translate(1152.6,391.2)"><rect class="g" x="-12" y="-12" width="24" height="24"/><text y="3.6">j3</text></g>
<g id="A-j4" transform="translate(1184.5,391.2)"><rect class="b" x="-12" y="-9" width="24" height="18"/><text y="3.6">j4</text></g>
<g id="A-j5" transform="translate(1216.3,391.2)"><rect class="b" x="-8" y="-9" width="16" height="18"/><text y="3.6">j5</text></g>
<g id="A-k1" transform="translate(1120.8,422.8)"><rect class="b" x="-12" y="-12" width="24" height="24"/><text y="3.6">k1</text></g>
<g id="A-k2" transform="translate(1152.6,422.8)"><rect class="b" x="-12" y="-12" width="24" height="24"/><text y="3.6">k2</text></g>
</g>
</svg>
